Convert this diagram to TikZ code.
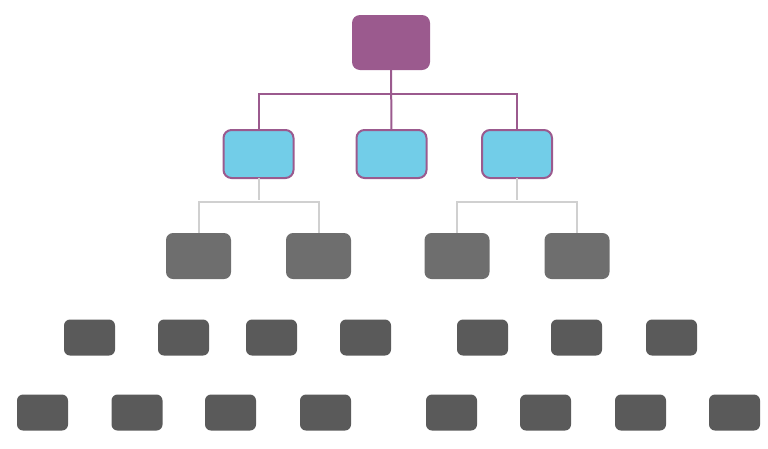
\documentclass[tikz,border=0pt]{standalone}
\definecolor{topc}{HTML}{9B5A8E}
\definecolor{bluec}{HTML}{72CDE8}
\definecolor{midg}{HTML}{6E6E6E}
\definecolor{darkg}{HTML}{5A5A5A}
\definecolor{lineg}{HTML}{D0D0D0}
\tikzset{
  topbox/.style={fill=topc, rounded corners=8pt, minimum width=78pt, minimum height=55pt, inner sep=0pt, outer sep=0pt},
  bluebox/.style={fill=bluec, draw=topc, line width=2pt, rounded corners=8pt, minimum width=70pt, minimum height=48pt, inner sep=0pt, outer sep=0pt},
  midbox/.style={fill=midg, rounded corners=7pt, minimum width=65pt, minimum height=46pt, inner sep=0pt, outer sep=0pt},
  smallbox/.style={fill=darkg, rounded corners=6pt, minimum width=51pt, minimum height=36pt, inner sep=0pt, outer sep=0pt},
  pline/.style={draw=topc, line width=2pt},
  gline/.style={draw=lineg, line width=2pt}
}
\begin{document}
\begin{tikzpicture}[x=1pt,y=-1pt]
\useasboundingbox (0,0) rectangle (768,448);
% level 1
\node[topbox] (top) at (391,42.5) {};
% level 2
\node[bluebox] (b1) at (258.5,154) {};
\node[bluebox] (b2) at (391.5,154) {};
\node[bluebox] (b3) at (517,154) {};
% level 3
\node[midbox] (g1) at (198.5,256) {};
\node[midbox] (g2) at (318.5,256) {};
\node[midbox] (g3) at (457,256) {};
\node[midbox] (g4) at (577,256) {};
% level 4
\foreach \n/\x in {1/89.5,2/183.5,3/271.5,4/365.5,5/482.5,6/576.5,7/671.5}
  \node[smallbox] (r\n) at (\x,337.5) {};
% level 5
\foreach \n/\x in {1/42.5,2/137,3/230.5,4/325.5,5/451.5,6/545.5,7/640.5,8/734.5}
  \node[smallbox] (s\n) at (\x,412.5) {};
% connectors
\draw[pline] (top.south) -- (b2.north);
\draw[pline] (b1.north) -- ++(0,-36) -| (b3.north);
\draw[gline] (b1.south) -- ++(0,22);
\draw[gline] (g1.north) -- ++(0,-31) -| (g2.north);
\draw[gline] (b3.south) -- ++(0,22);
\draw[gline] (g3.north) -- ++(0,-31) -| (g4.north);
\end{tikzpicture}
\end{document}
